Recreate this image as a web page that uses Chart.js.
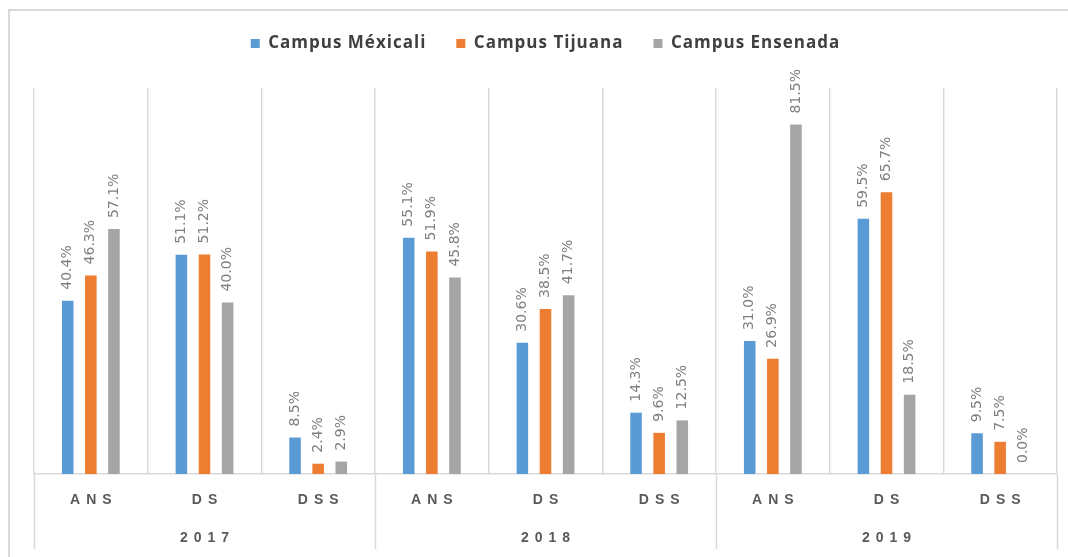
<!DOCTYPE html>
<html>
<head>
<meta charset="utf-8">
<script src="https://cdn.jsdelivr.net/npm/chart.js@4.4.1/dist/chart.umd.min.js"></script>
<style>
  html, body { margin: 0; background: #fff; }
  #wrap { width: 1068px; height: 557px; }
</style>
</head>
<body>
<div id="wrap"><canvas id="myChart"></canvas></div>
<script>
// categories: three groups per year
const years = ['2017', '2018', '2019'];
const labels = ['ANS', 'DS', 'DSS', 'ANS', 'DS', 'DSS', 'ANS', 'DS', 'DSS'];

// percentages
const mexicali = [40.4, 51.1, 8.5, 55.1, 30.6, 14.3, 31.0, 59.5, 9.5];
const tijuana  = [46.3, 51.2, 2.4, 51.9, 38.5, 9.6, 26.9, 65.7, 7.5];
const ensenada = [57.1, 40.0, 2.9, 45.8, 41.7, 12.5, 81.5, 18.5, 0.0];

const gridColor = '#d9d9d9';
const textColor = '#595959';

// value labels, rotated, above each bar + the two-level x axis
const extras = {
    id: 'extras',
    beforeLayout(chart) {
        // slightly wider legend text
        chart.ctx.letterSpacing = '1px';
    },
    beforeDraw(chart) {
        const c = chart.ctx;
        c.save();
        c.strokeStyle = gridColor;
        c.lineWidth = 2;
        c.beginPath();
        c.moveTo(9, 557);
        c.lineTo(9, 10);
        c.lineTo(1068, 10);
        c.stroke();
        c.restore();
    },
    afterDatasetsDraw(chart) {
        const c = chart.ctx;
        c.save();
        c.letterSpacing = '0px';
        c.font = '14px "DejaVu Sans"';
        c.fillStyle = '#7f7f7f';
        c.textAlign = 'left';
        c.textBaseline = 'middle';
        chart.data.datasets.forEach((ds, i) => {
            chart.getDatasetMeta(i).data.forEach((bar, j) => {
                c.save();
                c.translate(bar.x, bar.y - 11);
                c.rotate(-Math.PI / 2);
                c.fillText(ds.data[j].toFixed(1) + '%', 0, 0);
                c.restore();
            });
        });
        c.restore();
    },
    afterDraw(chart) {
        const c = chart.ctx;
        const xs = chart.scales.x;
        const area = chart.chartArea;
        const half = (xs.getPixelForValue(1) - xs.getPixelForValue(0)) / 2;
        c.save();
        c.fillStyle = textColor;
        c.textAlign = 'center';
        c.textBaseline = 'middle';
        c.font = 'bold 14px "Liberation Sans"';
        c.letterSpacing = '6px';
        labels.forEach((l, i) => {
            c.fillText(l, xs.getPixelForValue(i) + 3, area.bottom + 26);
        });
        years.forEach((y, g) => {
            const mid = (xs.getPixelForValue(g * 3) + xs.getPixelForValue(g * 3 + 2)) / 2;
            c.fillText(y, mid + 3, area.bottom + 64);
        });
        c.strokeStyle = gridColor;
        c.lineWidth = 1.5;
        for (let g = 0; g <= years.length; g++) {
            const x = Math.round(xs.getPixelForValue(g * 3) - half) + 0.5;
            c.beginPath();
            c.moveTo(x, area.bottom);
            c.lineTo(x, area.bottom + 75);
            c.stroke();
        }
        c.restore();
    }
};

const ctx = document.getElementById('myChart');
const myChart = new Chart(ctx, {
    type: 'bar',
    data: {
        labels: labels,
        datasets: [
            { label: 'Campus Méxicali', data: mexicali, backgroundColor: '#5b9bd5' },
            { label: 'Campus Tijuana', data: tijuana, backgroundColor: '#ed7d31' },
            { label: 'Campus Ensenada', data: ensenada, backgroundColor: '#a5a5a5' }
        ]
    },
    options: {
        responsive: true,
        maintainAspectRatio: false,
        animation: false,
        datasets: {
            bar: { categoryPercentage: 0.61, barPercentage: 0.5 }
        },
        layout: {
            padding: { left: 34, right: 11, top: 5, bottom: 83 }
        },
        scales: {
            x: {
                grid: { offset: true, color: gridColor, lineWidth: 1.5, drawTicks: false },
                border: { color: gridColor, width: 1.5 },
                ticks: { display: false }
            },
            y: {
                display: false,
                min: 0,
                max: 90
            }
        },
        plugins: {
            legend: {
                position: 'top',
                labels: {
                    boxWidth: 9,
                    boxHeight: 9,
                    padding: 30,
                    color: '#404040',
                    font: { family: '"Open Sans"', size: 17, weight: 'bold' }
                }
            },
            subtitle: {
                display: true,
                text: '',
                weight: 500,
                padding: { top: 0, bottom: 14 },
                font: { size: 10 }
            },
            tooltip: { enabled: false }
        }
    },
    plugins: [extras]
});
</script>
</body>
</html>
